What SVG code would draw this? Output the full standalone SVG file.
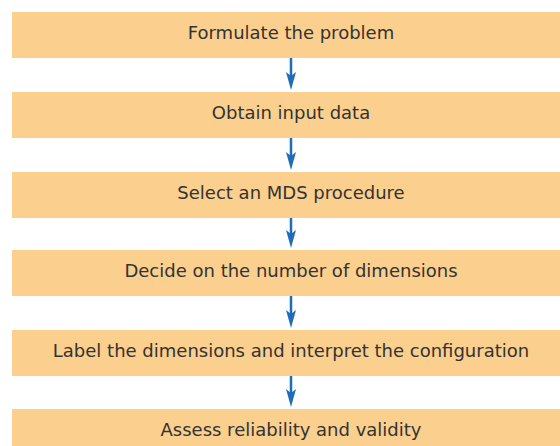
<svg xmlns="http://www.w3.org/2000/svg" width="560" height="446" viewBox="0 0 560 446">
<defs>
<style>
.box{fill:#FBCF8E}
.lbl{font-family:"DejaVu Sans","Liberation Sans",Arial,sans-serif;font-size:18px;fill:#333;text-anchor:middle}
.arr{stroke:#1F6DB8;stroke-width:2.5;fill:none}
.head{fill:#1F6DB8}
</style>
</defs>
<rect width="560" height="446" fill="#fff"/>
<g id="n1"><rect class="box" x="12" y="12" width="560" height="46"/><text class="lbl" x="291" y="39">Formulate the problem</text></g>
<g id="n2"><rect class="box" x="12" y="92" width="560" height="46"/><text class="lbl" x="291" y="119">Obtain input data</text></g>
<g id="n3"><rect class="box" x="12" y="172" width="560" height="46"/><text class="lbl" x="291" y="199">Select an MDS procedure</text></g>
<g id="n4"><rect class="box" x="12" y="250" width="560" height="46"/><text class="lbl" x="291" y="277">Decide on the number of dimensions</text></g>
<g id="n5"><rect class="box" x="12" y="330" width="560" height="46"/><text class="lbl" x="291" y="357">Label the dimensions and interpret the configuration</text></g>
<g id="n6"><rect class="box" x="12" y="409" width="560" height="46"/><text class="lbl" x="291" y="436">Assess reliability and validity</text></g>
<g id="connectors">
<path class="arr" d="M291 58V78M291 138V158M291 218V236M291 296V316M291 376V395"/>
<path class="head" d="M291 90L286 72L291 76L296 72Z"/>
<path class="head" d="M291 170L286 152L291 156L296 152Z"/>
<path class="head" d="M291 248L286 230L291 234L296 230Z"/>
<path class="head" d="M291 328L286 310L291 314L296 310Z"/>
<path class="head" d="M291 407L286 389L291 393L296 389Z"/>
</g>
</svg>
